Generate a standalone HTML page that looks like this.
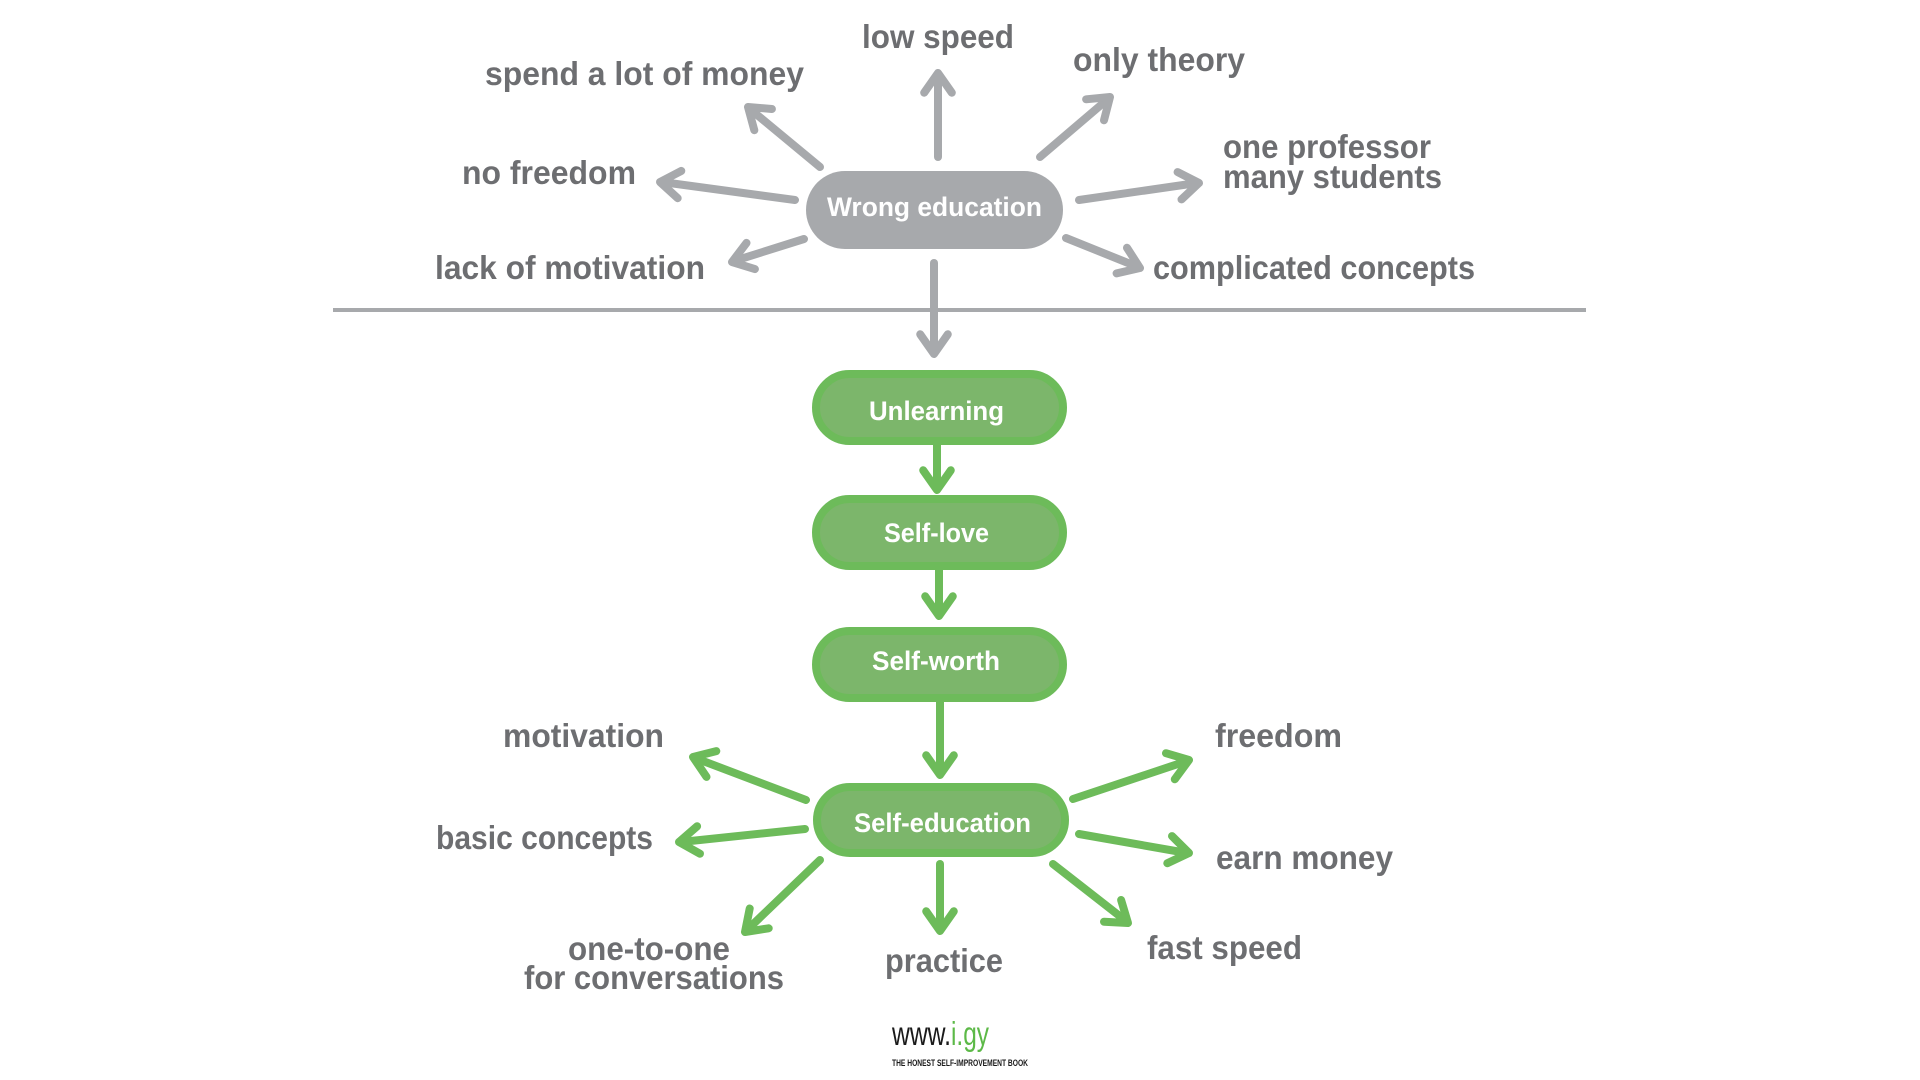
<!DOCTYPE html>
<html>
<head>
<meta charset="utf-8">
<style>
  html, body { margin: 0; padding: 0; background: #ffffff; }
  body { width: 1920px; height: 1080px; overflow: hidden; }
  svg { display: block; }
  .lbl { font-family: "Liberation Sans", sans-serif; font-weight: bold; font-size: 33px; fill: #6d6e71; }
  .pt { font-family: "Liberation Sans", sans-serif; font-weight: bold; font-size: 27px; fill: #ffffff; }
  .ga { stroke: #a7a9ac; stroke-width: 8; fill: none; stroke-linecap: round; stroke-linejoin: round; }
  .gr { stroke: #6dbb5a; stroke-width: 8; fill: none; stroke-linecap: round; stroke-linejoin: round; }
  .pill { fill: #7cb66b; stroke: #6dbb5a; stroke-width: 8; }
</style>
</head>
<body>
<svg width="1920" height="1080" viewBox="0 0 1920 1080" xmlns="http://www.w3.org/2000/svg">
  <rect x="0" y="0" width="1920" height="1080" fill="#ffffff"/>

  <!-- divider line -->
  <line x1="333" y1="310" x2="1586" y2="310" stroke="#a7a9ac" stroke-width="4"/>

  <!-- Gray arrows -->
  <g class="ga">
    <line x1="938" y1="157" x2="938" y2="75"/>
    <polyline points="924.2,92.7 938,73 951.8,92.7"/>

    <line x1="820" y1="167" x2="750" y2="109"/>
    <polyline points="754.3,130.2 748,107 771.9,109"/>

    <line x1="1040" y1="157" x2="1108" y2="99"/>
    <polyline points="1086.1,99.3 1110,97 1104,120.3"/>

    <line x1="795" y1="200" x2="662" y2="182"/>
    <polyline points="677.7,198.2 660,182 681.3,170.9"/>

    <line x1="1079" y1="200" x2="1197" y2="183"/>
    <polyline points="1177.6,172.1 1199,183 1181.5,199.4"/>

    <line x1="804" y1="239" x2="734" y2="261"/>
    <polyline points="754.9,269.1 732,262 746.5,242.9"/>

    <line x1="1066" y1="238" x2="1138" y2="267"/>
    <polyline points="1127,247.8 1140,268 1116.6,273.4"/>

    <line x1="934" y1="263" x2="934" y2="352"/>
    <polyline points="947.8,334.3 934,354 920.2,334.3"/>
  </g>

  <!-- Wrong education pill -->
  <rect x="806" y="171" width="257" height="78" rx="39" ry="39" fill="#a7a9ac"/>
  <text class="pt" x="827" y="216" textLength="215" lengthAdjust="spacingAndGlyphs">Wrong education</text>

  <!-- Green arrows -->
  <g class="gr">
    <line x1="937" y1="440" x2="937" y2="488"/>
    <polyline points="923.2,470.3 937,490 950.8,470.3"/>

    <line x1="939" y1="566" x2="939" y2="614"/>
    <polyline points="925.2,596.3 939,616 952.8,596.3"/>

    <line x1="940" y1="700" x2="940" y2="773"/>
    <polyline points="926.2,755.3 940,775 953.8,755.3"/>

    <line x1="940" y1="864" x2="940" y2="929"/>
    <polyline points="926.2,911.3 940,931 953.8,911.3"/>

    <line x1="806" y1="800" x2="695" y2="758"/>
    <polyline points="706.5,776.9 693,757 716.3,751.1"/>

    <line x1="805" y1="829" x2="681" y2="842"/>
    <polyline points="700,853.7 679,842 697.1,826.3"/>

    <line x1="820" y1="860" x2="747" y2="930"/>
    <polyline points="768.7,928.3 745,932 749.7,908.5"/>

    <line x1="1073" y1="799" x2="1187" y2="761"/>
    <polyline points="1166,753.2 1189,760 1174.8,779.3"/>

    <line x1="1079" y1="834" x2="1187" y2="853"/>
    <polyline points="1172,836.1 1189,853 1167.3,863.2"/>

    <line x1="1053" y1="864" x2="1126" y2="921"/>
    <polyline points="1121.1,900 1128,923 1104,921.7"/>
  </g>

  <!-- Green pills -->
  <rect class="pill" x="816" y="374" width="247" height="67" rx="33.5" ry="33.5"/>
  <text class="pt" x="869" y="420" textLength="135" lengthAdjust="spacingAndGlyphs">Unlearning</text>

  <rect class="pill" x="816" y="499" width="247" height="67" rx="33.5" ry="33.5"/>
  <text class="pt" x="884" y="542" textLength="105" lengthAdjust="spacingAndGlyphs">Self-love</text>

  <rect class="pill" x="816" y="631" width="247" height="67" rx="33.5" ry="33.5"/>
  <text class="pt" x="872" y="670" textLength="128" lengthAdjust="spacingAndGlyphs">Self-worth</text>

  <rect class="pill" x="817" y="787" width="248" height="66" rx="33" ry="33"/>
  <text class="pt" x="854" y="832" textLength="177" lengthAdjust="spacingAndGlyphs">Self-education</text>

  <!-- Top labels -->
  <text class="lbl" x="862" y="48" textLength="152" lengthAdjust="spacingAndGlyphs">low speed</text>
  <text class="lbl" x="485" y="85" textLength="319" lengthAdjust="spacingAndGlyphs">spend a lot of money</text>
  <text class="lbl" x="1073" y="71" textLength="172" lengthAdjust="spacingAndGlyphs">only theory</text>
  <text class="lbl" x="462" y="184" textLength="174" lengthAdjust="spacingAndGlyphs">no freedom</text>
  <text class="lbl" x="1223" y="158" textLength="208" lengthAdjust="spacingAndGlyphs">one professor</text>
  <text class="lbl" x="1223" y="188" textLength="219" lengthAdjust="spacingAndGlyphs">many students</text>
  <text class="lbl" x="435" y="279" textLength="270" lengthAdjust="spacingAndGlyphs">lack of motivation</text>
  <text class="lbl" x="1153" y="279" textLength="322" lengthAdjust="spacingAndGlyphs">complicated concepts</text>

  <!-- Bottom labels -->
  <text class="lbl" x="503" y="747" textLength="161" lengthAdjust="spacingAndGlyphs">motivation</text>
  <text class="lbl" x="436" y="849" textLength="217" lengthAdjust="spacingAndGlyphs">basic concepts</text>
  <text class="lbl" x="568" y="960" textLength="162" lengthAdjust="spacingAndGlyphs">one-to-one</text>
  <text class="lbl" x="524" y="989" textLength="260" lengthAdjust="spacingAndGlyphs">for conversations</text>
  <text class="lbl" x="885" y="972" textLength="118" lengthAdjust="spacingAndGlyphs">practice</text>
  <text class="lbl" x="1215" y="747" textLength="127" lengthAdjust="spacingAndGlyphs">freedom</text>
  <text class="lbl" x="1216" y="869" textLength="177" lengthAdjust="spacingAndGlyphs">earn money</text>
  <text class="lbl" x="1147" y="959" textLength="155" lengthAdjust="spacingAndGlyphs">fast speed</text>

  <!-- Logo -->
  <text x="892" y="1045" font-family="'Liberation Sans', sans-serif" font-size="33" fill="#1a1a1a" textLength="59" lengthAdjust="spacingAndGlyphs">www.</text>
  <text x="951" y="1045" font-family="'Liberation Sans', sans-serif" font-size="33" fill="#5cb947" textLength="38" lengthAdjust="spacingAndGlyphs">i.gy</text>
  <text x="892" y="1066" font-family="'Liberation Sans', sans-serif" font-weight="bold" font-size="9" fill="#1a1a1a" textLength="136" lengthAdjust="spacingAndGlyphs">THE HONEST SELF-IMPROVEMENT BOOK</text>
</svg>
</body>
</html>
